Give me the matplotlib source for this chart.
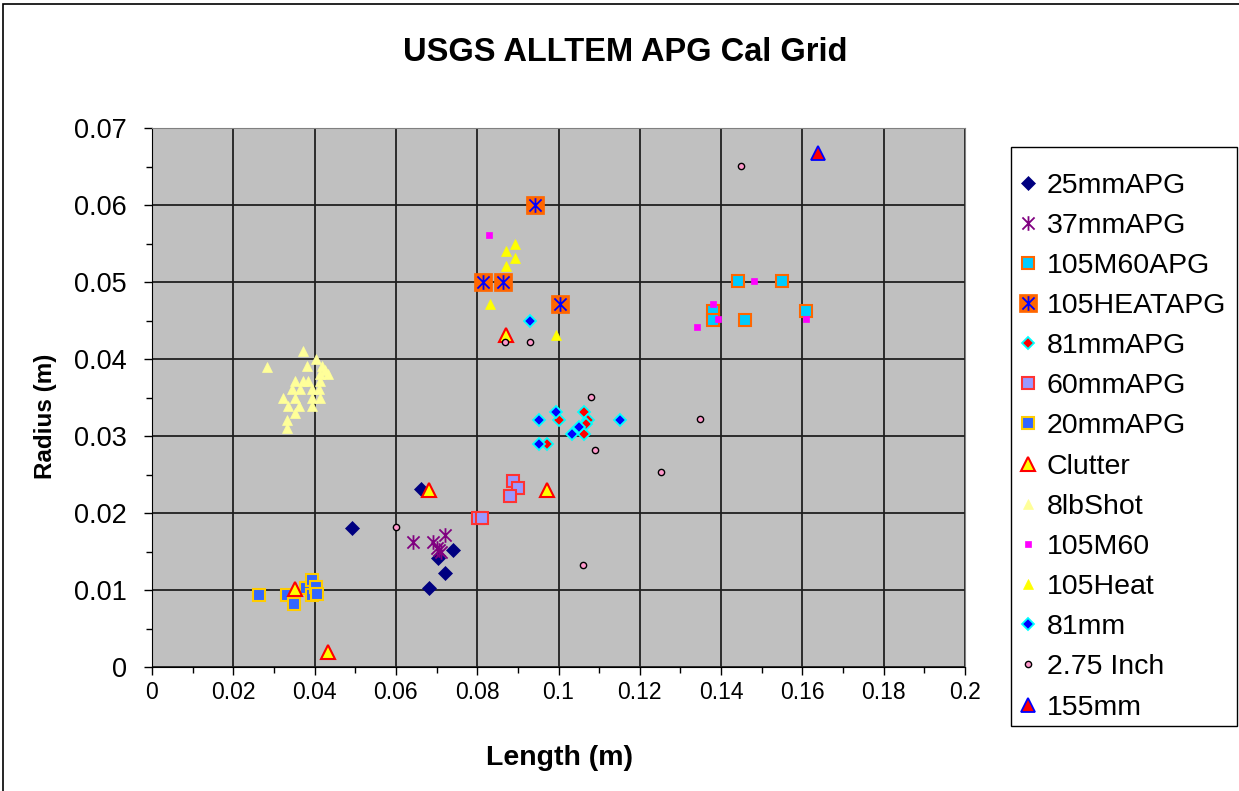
import matplotlib
matplotlib.use("Agg")
import matplotlib.pyplot as plt
from matplotlib.path import Path
from matplotlib.ticker import MultipleLocator, FuncFormatter
import matplotlib.patches as mpatches

plt.rcParams['font.family'] = ['Liberation Sans', 'DejaVu Sans']

# ---------------- data ----------------
x_25mmAPG = [0.0493, 0.0662, 0.0741, 0.0703, 0.0721, 0.0681]
y_25mmAPG = [0.0181, 0.0231, 0.0152, 0.0142, 0.0122, 0.0102]

x_37mmAPG = [0.0641, 0.0692, 0.0721, 0.0707, 0.0700, 0.0712]
y_37mmAPG = [0.0162, 0.0162, 0.0171, 0.0152, 0.0155, 0.0150]

x_105M60APG = [0.1441, 0.1550, 0.1379, 0.1379, 0.1459, 0.1608]
y_105M60APG = [0.0501, 0.0501, 0.0462, 0.0451, 0.0451, 0.0462]

x_105HEATAPG = [0.0942, 0.0815, 0.0863, 0.1004]
y_105HEATAPG = [0.0600, 0.0500, 0.0500, 0.0471]

x_81mmAPG = [0.1002, 0.1063, 0.1073, 0.1063, 0.0971, 0.1068]
y_81mmAPG = [0.0321, 0.0331, 0.0321, 0.0302, 0.0290, 0.0315]

x_60mmAPG = [0.0889, 0.0901, 0.0881, 0.0801, 0.0811]
y_60mmAPG = [0.0241, 0.0232, 0.0222, 0.0193, 0.0193]

x_20mmAPG = [0.0262, 0.0331, 0.0350, 0.0380, 0.0393, 0.0393, 0.0403, 0.0405]
y_20mmAPG = [0.0093, 0.0093, 0.0082, 0.0103, 0.0113, 0.0093, 0.0104, 0.0095]

x_Clutter = [0.0352, 0.0434, 0.0681, 0.0971, 0.0871]
y_Clutter = [0.0101, 0.0020, 0.0230, 0.0230, 0.0431]

x_8lbShot = [0.0372, 0.0284, 0.0403, 0.0382, 0.0417, 0.0426, 0.0434, 0.0413,
             0.0352, 0.0372, 0.0383, 0.0413, 0.0344, 0.0364, 0.0393, 0.0411,
             0.0323, 0.0352, 0.0393, 0.0413, 0.0335, 0.0362, 0.0394, 0.0352,
             0.0333, 0.0333]
y_8lbShot = [0.0411, 0.0390, 0.0400, 0.0391, 0.0391, 0.0386, 0.0381, 0.0381,
             0.0371, 0.0371, 0.0371, 0.0371, 0.0361, 0.0361, 0.0361, 0.0361,
             0.0349, 0.0349, 0.0349, 0.0349, 0.0339, 0.0339, 0.0339, 0.0330,
             0.0321, 0.0311]

x_105M60 = [0.0830, 0.1481, 0.1379, 0.1392, 0.1340, 0.1608]
y_105M60 = [0.0561, 0.0501, 0.0472, 0.0452, 0.0441, 0.0452]

x_105Heat = [0.0893, 0.0871, 0.0893, 0.0871, 0.0831, 0.0994]
y_105Heat = [0.0550, 0.0540, 0.0531, 0.0521, 0.0471, 0.0431]

x_81mm = [0.0953, 0.0993, 0.1050, 0.1032, 0.0953, 0.1151, 0.0931]
y_81mm = [0.0321, 0.0331, 0.0312, 0.0302, 0.0290, 0.0321, 0.0450]

x_275Inch = [0.0600, 0.0868, 0.0930, 0.1080, 0.1090, 0.1061, 0.1251, 0.1348, 0.1449]
y_275Inch = [0.0182, 0.0422, 0.0422, 0.0351, 0.0282, 0.0132, 0.0253, 0.0322, 0.0651]

x_155mm = [0.1639]
y_155mm = [0.0668]

labels = ['25mmAPG', '37mmAPG', '105M60APG', '105HEATAPG', '81mmAPG', '60mmAPG',
          '20mmAPG', 'Clutter', '8lbShot', '105M60', '105Heat', '81mm', '2.75 Inch', '155mm']

# ---------------- figure ----------------
W, H = 1239, 791
fig = plt.figure(figsize=(W / 100, H / 100), dpi=100)
fig.patch.set_facecolor('white')

ax = fig.add_axes([152 / W, 1 - 667 / H, (965 - 152) / W, (667 - 128) / H])
ax.set_facecolor('#C0C0C0')
ax.set_xlim(0, 0.2)
ax.set_ylim(0, 0.07)
ax.xaxis.set_major_locator(MultipleLocator(0.02))
ax.yaxis.set_major_locator(MultipleLocator(0.01))
ax.yaxis.set_minor_locator(MultipleLocator(0.005))
ax.xaxis.set_minor_locator(MultipleLocator(0.01))
fmt = FuncFormatter(lambda v, p: '%g' % round(v, 4))
ax.xaxis.set_major_formatter(fmt)
ax.yaxis.set_major_formatter(fmt)
ax.grid(True, which='major', color='#202020', lw=1.3)
ax.set_axisbelow(True)
ax.tick_params(which='major', direction='out', length=6, width=1)
ax.tick_params(which='minor', direction='out', length=4, width=1)
ax.tick_params(axis='y', which='major', labelsize=19.5, pad=12)
ax.tick_params(axis='x', which='major', labelsize=16.5, pad=4)
for s in ['top', 'right']:
    ax.spines[s].set_color('#808080')
for s in ['left', 'bottom']:
    ax.spines[s].set_color('black')

ast = Path([(-1, -1), (1, 1), (-1, 1), (1, -1), (0, -1.2), (0, 1.2)],
           [Path.MOVETO, Path.LINETO, Path.MOVETO, Path.LINETO, Path.MOVETO, Path.LINETO])

handles = []
h = ax.plot(x_25mmAPG, y_25mmAPG, ls='none', marker='D', ms=7.5, mfc='#000080', mec='#000080', mew=0.5)[0]
handles.append(h)
h = ax.plot(x_37mmAPG, y_37mmAPG, ls='none', marker=ast, ms=10.5, mfc='none', mec='#800080', mew=1.3)[0]
handles.append(h)
h = ax.plot(x_105M60APG, y_105M60APG, ls='none', marker='s', ms=8.5, mfc='#00CCFF', mec='#FF6600', mew=1.5)[0]
handles.append(h)
h1 = ax.plot(x_105HEATAPG, y_105HEATAPG, ls='none', marker='s', ms=12.5, mfc='#FF6600', mec='#FF6600', mew=0.5)[0]
h2 = ax.plot(x_105HEATAPG, y_105HEATAPG, ls='none', marker=ast, ms=10.5, mfc='none', mec='#0000FF', mew=1.3)[0]
handles.append((h1, h2))
h = ax.plot(x_81mmAPG, y_81mmAPG, ls='none', marker='D', ms=6.5, mfc='#FF0000', mec='#00FFFF', mew=1.3)[0]
handles.append(h)
h = ax.plot(x_60mmAPG, y_60mmAPG, ls='none', marker='s', ms=9, mfc='#9999FF', mec='#FF3333', mew=1.5)[0]
handles.append(h)
h = ax.plot(x_20mmAPG, y_20mmAPG, ls='none', marker='s', ms=8.5, mfc='#3366FF', mec='#FFCC00', mew=1.5)[0]
handles.append(h)
h = ax.plot(x_Clutter, y_Clutter, ls='none', marker='^', ms=9.5, mfc='#FFFF00', mec='#FF0000', mew=1.5)[0]
handles.append(h)
h = ax.plot(x_8lbShot, y_8lbShot, ls='none', marker='^', ms=6.5, mfc='#FFFF99', mec='#FFFF99', mew=0.5)[0]
handles.append(h)
h = ax.plot(x_105M60, y_105M60, ls='none', marker='s', ms=5, mfc='#FF00FF', mec='#FF00FF', mew=0.5)[0]
handles.append(h)
h = ax.plot(x_105Heat, y_105Heat, ls='none', marker='^', ms=6.5, mfc='#FFFF00', mec='#FFFF00', mew=0.5)[0]
handles.append(h)
h = ax.plot(x_81mm, y_81mm, ls='none', marker='D', ms=6.5, mfc='#0000FF', mec='#00FFFF', mew=1.3)[0]
handles.append(h)
h = ax.plot(x_275Inch, y_275Inch, ls='none', marker='o', ms=4.5, mfc='#FF99CC', mec='#000000', mew=1.0)[0]
handles.append(h)
h = ax.plot(x_155mm, y_155mm, ls='none', marker='^', ms=9.5, mfc='#FF0000', mec='#0000FF', mew=1.3)[0]
handles.append(h)

leg = fig.legend(handles, labels, loc='upper left', bbox_to_anchor=(1009 / W, 1 - 164 / H),
                 fontsize=20.5, frameon=False,
                 handlelength=0.7, handletextpad=0.32, labelspacing=0.497,
                 borderpad=0.3, borderaxespad=0)

# legend frame
fig.patches.append(mpatches.Rectangle((1011 / W, 1 - 726 / H), (1237 - 1011) / W, (726 - 147) / H,
                                      transform=fig.transFigure, fill=False,
                                      edgecolor='black', lw=1.0, zorder=0))

ax.set_title('USGS ALLTEM APG Cal Grid', fontsize=23.5, fontweight='bold', pad=48,
             x=(625 - 152) / 813)
ax.set_xlabel('Length (m)', fontsize=20.5, fontweight='bold')
ax.set_ylabel('Radius (m)', fontsize=17.5, fontweight='bold')
ax.xaxis.label.set_verticalalignment('center')
ax.yaxis.label.set_verticalalignment('center')
ax.xaxis.set_label_coords((560 - 152) / 813, (667 - 758) / 539)
ax.yaxis.set_label_coords((45 - 152) / 813, (667 - 416) / 539)

# outer chart border
fig.patches.append(mpatches.Rectangle((3 / W, -0.02), 1.0, 1 - 4 / H + 0.02, transform=fig.transFigure,
                                      fill=False, edgecolor='black', lw=1.2))

fig.savefig('out.png', dpi=100)
